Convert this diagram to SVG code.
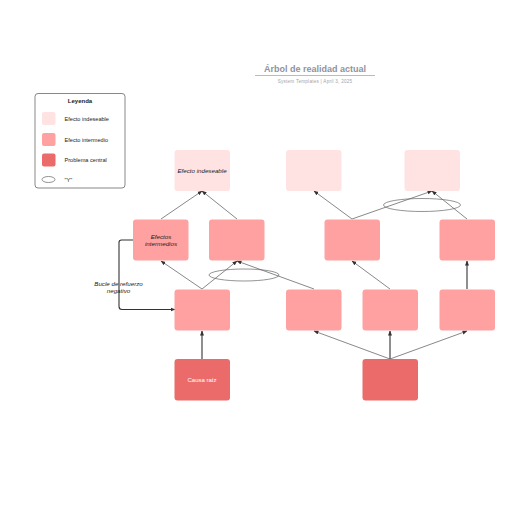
<svg xmlns="http://www.w3.org/2000/svg" width="516" height="516" viewBox="0 0 516 516">
<style>
text{font-family:"Liberation Sans",Arial,sans-serif;}
.und{fill:#FFE3E3;}
.int{fill:#FFA1A1;}
.prob{fill:#EB6B6B;}
.c{fill:none;stroke:#555;stroke-width:0.7;}
.ct{fill:none;stroke:#333;stroke-width:1.1;}
.lbl{font-size:6.2px;fill:#222;text-anchor:middle;font-style:italic;}
.leg{font-size:5.6px;fill:#222;}
.ell{fill:none;stroke:#666;stroke-width:0.7;}
</style>
<defs>
<marker id="ah" viewBox="0 0 10 10" refX="9" refY="5" markerWidth="5" markerHeight="5" orient="auto" markerUnits="userSpaceOnUse">
<path d="M0,1 L10,5 L0,9 z" fill="#333"/>
</marker>
</defs>
<rect width="516" height="516" fill="#fff"/>
<g id="title">
<text x="315" y="72" font-size="9" font-weight="bold" fill="#8E939E" text-anchor="middle">Árbol de realidad actual</text>
<line x1="255" y1="75.5" x2="375" y2="75.5" stroke="#A5A9B2" stroke-width="0.8"/>
<text x="315" y="82.5" font-size="4.6" fill="#A0A4AC" text-anchor="middle" letter-spacing="0.25">System Templates  |  April 3, 2025</text>
</g>
<g id="legend">
<rect x="35" y="93.5" width="90" height="94.5" rx="3" fill="#fff" stroke="#555" stroke-width="0.7"/>
<text x="80" y="102.5" font-size="6" font-weight="600" fill="#222" text-anchor="middle">Leyenda</text>
<rect x="42" y="112" width="13.5" height="13" rx="2" class="und"/>
<text x="64.5" y="120.5" class="leg">Efecto indeseable</text>
<rect x="42" y="133" width="13.5" height="13" rx="2" class="int"/>
<text x="64.5" y="141.5" class="leg">Efecto intermedio</text>
<rect x="42" y="153.5" width="13.5" height="13" rx="2" class="prob"/>
<text x="64.5" y="162" class="leg">Problema central</text>
<ellipse cx="48.5" cy="179.5" rx="6.5" ry="3" class="ell" stroke="#333"/>
<text x="64.5" y="181.5" class="leg">"Y"</text>
</g>
<g id="connectors">
<line x1="202" y1="289" x2="161" y2="261" class="c" marker-end="url(#ah)"/>
<line x1="202" y1="289" x2="237" y2="261" class="c" marker-end="url(#ah)"/>
<line x1="314" y1="289" x2="237" y2="261" class="c" marker-end="url(#ah)"/>
<line x1="161" y1="219" x2="202" y2="191" class="c" marker-end="url(#ah)"/>
<line x1="237" y1="219" x2="202" y2="191" class="c" marker-end="url(#ah)"/>
<line x1="390" y1="289" x2="352" y2="261" class="c" marker-end="url(#ah)"/>
<line x1="467" y1="289" x2="467" y2="261" class="ct" marker-end="url(#ah)"/>
<line x1="352" y1="219" x2="314" y2="191" class="c" marker-end="url(#ah)"/>
<line x1="352" y1="219" x2="432" y2="191" class="c" marker-end="url(#ah)"/>
<line x1="467" y1="219" x2="432" y2="191" class="c" marker-end="url(#ah)"/>
<line x1="202" y1="359" x2="202" y2="331" class="ct" marker-end="url(#ah)"/>
<line x1="390" y1="359" x2="390" y2="331" class="ct" marker-end="url(#ah)"/>
<line x1="390" y1="359" x2="314" y2="331" class="c" marker-end="url(#ah)"/>
<line x1="390" y1="359" x2="467" y2="331" class="c" marker-end="url(#ah)"/>
<path d="M133,240 H121.5 Q119,240 119,242.5 V306.5 Q119,309.5 122,309.5 H175" class="ct" stroke-width="0.8" marker-end="url(#ah)"/>
<ellipse cx="244" cy="275" rx="35" ry="6" class="ell"/>
<ellipse cx="422" cy="205" rx="38.5" ry="6.5" class="ell"/>
<text x="118.5" y="286" class="lbl">Bucle de refuerzo</text>
<text x="118.5" y="293" class="lbl">negativo</text>
</g>
<g id="und1"><rect x="174.5" y="150" width="55.5" height="41" rx="3" class="und"/><text x="202" y="172.5" class="lbl">Efecto indeseable</text></g>
<g id="und2"><rect x="286" y="150" width="55.5" height="41" rx="3" class="und"/></g>
<g id="und3"><rect x="404.5" y="150" width="55.5" height="41" rx="3" class="und"/></g>
<g id="int1"><rect x="133" y="219.5" width="55.5" height="41" rx="3" class="int"/><text x="161" y="238.5" class="lbl">Efectos</text><text x="161" y="245.5" class="lbl">intermedios</text></g>
<g id="int2"><rect x="209" y="219.5" width="55.5" height="41" rx="3" class="int"/></g>
<g id="int3"><rect x="324.5" y="219.5" width="55.5" height="41" rx="3" class="int"/></g>
<g id="int4"><rect x="439.5" y="219.5" width="55.5" height="41" rx="3" class="int"/></g>
<g id="bot1"><rect x="174.5" y="289.5" width="55.5" height="41" rx="3" class="int"/></g>
<g id="bot2"><rect x="286" y="289.5" width="55.5" height="41" rx="3" class="int"/></g>
<g id="bot3"><rect x="362.5" y="289.5" width="55.5" height="41" rx="3" class="int"/></g>
<g id="bot4"><rect x="439.5" y="289.5" width="55.5" height="41" rx="3" class="int"/></g>
<g id="root1"><rect x="174.5" y="359" width="55.5" height="41.5" rx="3" class="prob"/><text x="202" y="381.5" font-size="6" fill="#fff" text-anchor="middle">Causa raíz</text></g>
<g id="root2"><rect x="362.5" y="359" width="55.5" height="41.5" rx="3" class="prob"/></g>
</svg>
